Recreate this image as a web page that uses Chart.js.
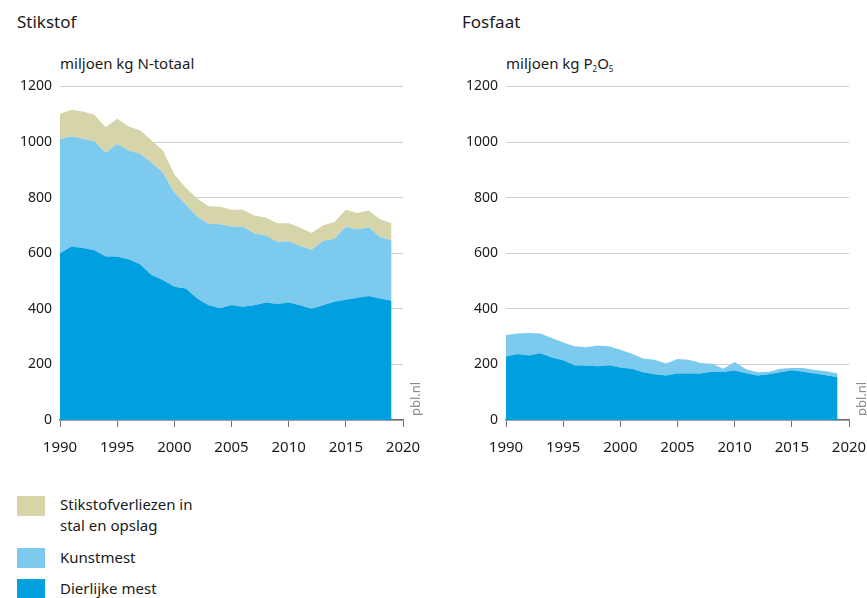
<!DOCTYPE html>
<html>
<head>
<meta charset="utf-8">
<script src="https://cdn.jsdelivr.net/npm/chart.js@4/dist/chart.umd.min.js"></script>
<style>
  body { margin: 0; background: #fff; font-family: "Noto Sans", sans-serif; color: #1a1a1a; }
  #page { position: relative; width: 867px; height: 598px; overflow: hidden; }
  .titel { position: absolute; font-size: 17px; top: 10px; }
  .eenheid { position: absolute; font-size: 15px; top: 53px; }
  .eenheid sub { font-size: 8px; vertical-align: -3px; }
  .bron { position: absolute; font-size: 13px; color: #8a8a8a; transform: rotate(-90deg); transform-origin: left top; }
  .doos { position: absolute; }
  .leg { position: absolute; left: 17px; width: 28px; height: 20px; }
  .legtxt { position: absolute; left: 60px; font-size: 15px; line-height: 21px; }
</style>
</head>
<body>
<div id="page">
  <div class="titel" style="left:17px">Stikstof</div>
  <div class="titel" style="left:462px">Fosfaat</div>
  <div class="eenheid" style="left:60px">miljoen kg N-totaal</div>
  <div class="eenheid" style="left:506px">miljoen kg P<sub>2</sub>O<sub>5</sub></div>

  <div class="doos" style="left:0px;top:70px;width:430px;height:400px"><canvas id="grafiekN"></canvas></div>
  <div class="doos" style="left:440px;top:70px;width:427px;height:400px"><canvas id="grafiekP"></canvas></div>

  <div class="bron" style="left:406px;top:416px">pbl.nl</div>
  <div class="bron" style="left:852px;top:416px">pbl.nl</div>

  <div class="leg" style="top:496px;background:#d6d5aa"></div>
  <div class="legtxt" style="top:494px">Stikstofverliezen in<br>stal en opslag</div>
  <div class="leg" style="top:548px;background:#7ccaee"></div>
  <div class="legtxt" style="top:547px">Kunstmest</div>
  <div class="leg" style="top:579px;background:#009fdf"></div>
  <div class="legtxt" style="top:578px">Dierlijke mest</div>
</div>

<script>
const jaren = [1990,1991,1992,1993,1994,1995,1996,1997,1998,1999,2000,2001,2002,2003,2004,
  2005,2006,2007,2008,2009,2010,2011,2012,2013,2014,2015,2016,2017,2018,2019];

// stikstof (miljoen kg N)
const stikstofMest = [600,624,619,611,588,588,578,560,522,504,479,473,437,413,402,
  414,407,413,423,417,423,413,400,413,425,433,440,446,437,429];
const stikstofKunstmest = [409,397,393,392,373,405,391,398,403,385,338,302,294,293,302,
  281,288,258,241,224,220,213,212,231,227,262,245,247,221,218];
const stikstofVerliezen = [93,95,98,95,92,91,87,84,81,80,66,60,66,63,63,
  61,61,65,64,67,65,66,61,56,60,61,60,61,64,61];

// fosfaat (miljoen kg P2O5)
const fosfaatMest = [228,237,232,240,225,215,197,196,193,197,189,184,172,165,160,
  167,167,167,174,173,178,168,160,165,172,179,174,167,161,154];
const fosfaatKunstmest = [78,74,81,71,70,64,68,66,75,68,64,54,49,52,43,
  52,50,38,28,11,31,15,12,9,12,8,13,13,14,14];

const yTicks = [0,200,400,600,800,1000,1200];
const xTicks = [1990,1995,2000,2005,2010,2015,2020];

const kleurMest = '#009fdf';
const kleurKunst = '#7ccaee';
const kleurVerlies = '#d6d5aa';

function punten(waarden) {
  return waarden.map((v, i) => ({ x: jaren[i], y: v }));
}

function laag(naam, waarden, kleur, vulling) {
  return {
    label: naam,
    data: punten(waarden),
    backgroundColor: kleur,
    borderColor: kleur,
    borderWidth: 0,
    pointRadius: 0,
    fill: vulling,
    tension: 0
  };
}

function maakConfig(datasets, asBreedte, rechts) {
  return {
    type: 'line',
    data: { datasets: datasets },
    options: {
      responsive: true,
      maintainAspectRatio: false,
      animation: false,
      layout: { padding: { top: 15, right: rechts, left: 0, bottom: 0 } },
      plugins: { legend: { display: false }, tooltip: { enabled: false } },
      scales: {
        x: {
          type: 'linear',
          min: 1990,
          max: 2020,
          afterBuildTicks: (as) => { as.ticks = xTicks.map(v => ({ value: v })); },
          afterFit: (as) => { as.height = 50; as.paddingLeft = 0; as.paddingRight = 0; },
          grid: { drawOnChartArea: false, drawTicks: true, tickLength: 7, color: '#6e6e6e', lineWidth: 1 },
          border: { display: true, color: '#6e6e6e', width: 1.5 },
          ticks: { color: '#1a1a1a', font: { family: 'Noto Sans', size: 15 }, padding: 12, maxRotation: 0, callback: v => String(v) }
        },
        y: {
          stacked: true,
          min: 0,
          max: 1200,
          afterBuildTicks: (as) => { as.ticks = yTicks.map(v => ({ value: v })); },
          afterFit: (as) => { as.width = asBreedte; },
          grid: { color: '#cfcfcf', lineWidth: 1, drawTicks: false },
          border: { display: false },
          ticks: { color: '#1a1a1a', font: { family: 'Noto Sans', size: 14 }, padding: 8, callback: v => String(v) }
        }
      }
    }
  };
}

const configN = maakConfig([
  laag('Dierlijke mest', stikstofMest, kleurMest, 'origin'),
  laag('Kunstmest', stikstofKunstmest, kleurKunst, '-1'),
  laag('Stikstofverliezen in stal en opslag', stikstofVerliezen, kleurVerlies, '-1')
], 60, 27);

const configP = maakConfig([
  laag('Dierlijke mest', fosfaatMest, kleurMest, 'origin'),
  laag('Kunstmest', fosfaatKunstmest, kleurKunst, '-1')
], 66, 18);

new Chart(document.getElementById('grafiekN'), configN);
new Chart(document.getElementById('grafiekP'), configP);
</script>
</body>
</html>
